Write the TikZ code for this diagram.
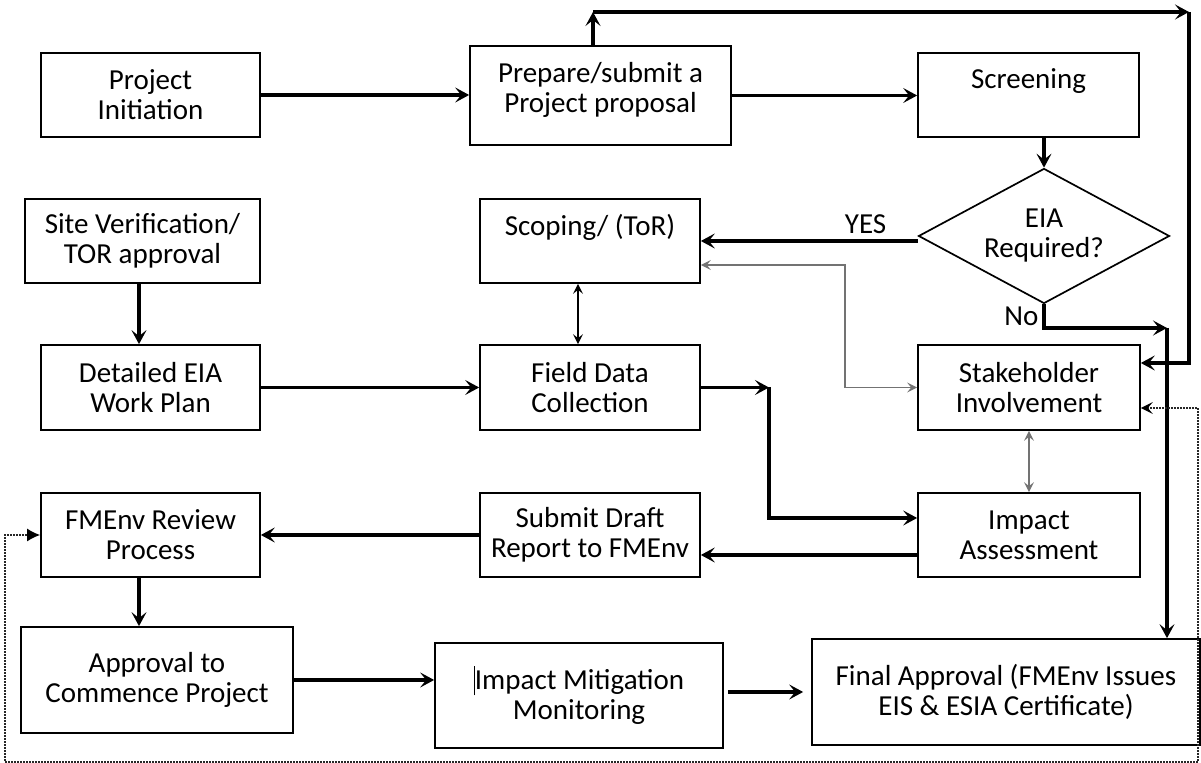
\documentclass[tikz,border=0pt]{standalone}
\usepackage{fontspec}
\setmainfont{Carlito}
\usetikzlibrary{arrows.meta, shapes.geometric}

\begin{document}
\begin{tikzpicture}[x=0.5pt, y=-0.5pt,
  font=\fontsize{14.5}{15}\selectfont,
  box/.style 2 args={draw, line width=0.85pt, align=center, inner sep=0pt,
    minimum width=#1*0.5pt, minimum height=#2*0.5pt},
  dia/.style={draw, diamond, line width=0.85pt, align=center, inner sep=0pt,
    aspect=1.86, minimum width=125.5pt, minimum height=67.5pt},
  arr/.style={line width=1.6pt, -{Stealth[length=7pt,width=7.5pt,inset=3pt]}},
  tarr/.style={line width=0.65pt, {Stealth[length=5pt,width=5pt,inset=2pt]}-{Stealth[length=5pt,width=5pt,inset=2pt]}},
  garr/.style={tarr, draw=black!55},
  dotarr/.style={line width=0.75pt, draw=black!85, dash pattern=on 0.75pt off 0.75pt,
    {Stealth[length=6pt,width=6pt,inset=2.5pt,black]}-{Latex[length=6.5pt,width=6.5pt,black]}}
]
\useasboundingbox (0,0) rectangle (1201,763);

%boxes
\node[box={219}{84}] (init) at (150.5,95) {Project\\Initiation};
\node[box={261}{99}, text depth=8.5pt] (prep) at (600.5,95.5) {Prepare/submit a\\Project proposal};
\node[box={221}{84}, text depth=16pt] (screen) at (1028.5,95) {Screening};
\node[dia] (eia) at (1044,236) {EIA\\Required?};
\node[box={235}{84}] (site) at (142.5,241) {Site Verification/\\TOR approval};
\node[box={220}{84}, text depth=16.5pt] (scope) at (590,241) {Scoping/ (ToR)};
\node[box={219}{85}] (plan) at (150.5,387.5) {Detailed EIA\\Work Plan};
\node[box={220}{85}] (field) at (590,387.5) {Field Data\\Collection};
\node[box={222}{85}] (stake) at (1029,387.5) {Stakeholder\\Involvement};
\node[box={219}{84}] (review) at (150.5,535) {FMEnv Review\\Process};
\node[box={220}{84}] (draft) at (590,535) {Submit Draft\\Report to FMEnv};
\node[box={222}{84}] (impact) at (1029,535) {Impact\\Assessment};
\node[box={272}{106}] (commence) at (157,680) {Approval to\\Commence Project};
\node[box={288}{105}] (mitig) at (579,695.5) {\rule[-0.2em]{0.5pt}{1em}Impact Mitigation\\Monitoring};
\node[box={388}{106}] (final) at (1006,692) {Final Approval (FMEnv Issues\\EIS \& ESIA Certificate)};

%corners
\coordinate (tl) at (593,12);
\coordinate (tr) at (1189,12);
\coordinate (nk) at (1167,328);
\coordinate (fk) at (769,387.5);
\coordinate (gk) at (845,387.5);

%main flow
\draw[arr] (init.east) -- (init.east -| prep.west);
\draw[arr] (prep.east) -- (prep.east -| screen.west);
\draw[arr] (prep.north -| tl) -- (tl);
\draw[arr] (tl) -- (tr);
\draw[arr] (tr) |- ([yshift=12.25pt]stake.east);
\draw[arr] (eia.north |- screen.south) -- (eia.north);
\draw[arr] (eia.west |- scope.east) -- (scope.east) node[pos=0.24, above, inner sep=3pt] {YES};
\draw[garr] ([yshift=-12pt]scope.east) -| (gk) -- (stake.west);
\draw[tarr] ([xshift=-6pt]scope.south) -- ([xshift=-6pt]field.north);
\draw[arr] ([xshift=-5.75pt]plan.north |- site.south) -- ([xshift=-5.75pt]plan.north);
\draw[arr] (plan.east) -- (field.west);
\draw[arr] (field.east) -- (fk);
\draw[arr] (fk) |- ([yshift=8.5pt]impact.west);
\draw[garr] (stake.south) -- (impact.north);
\draw[arr] ([yshift=-10pt]impact.west) -- ([yshift=-10pt]impact.west -| draft.east);
\draw[arr] (draft.west) -- (review.east);
\draw[arr] ([xshift=-5.75pt]review.south) -- ([xshift=-5.75pt]review.south |- commence.north);
\draw[arr] (commence.east) -- (commence.east -| mitig.west);
\draw[arr, shorten <=2pt, shorten >=4pt] (final.west -| mitig.east) -- (final.west);
%no branch
\draw[arr] (eia.south) |- (nk) node[pos=0.25, left, inner sep=2pt] {No};
\draw[arr] (nk) -- (nk |- final.north);
%feedback loop
\draw[dotarr] ([yshift=-10.25pt]stake.east) -| (1198,762) -| (5,535) -- (review.west);
\end{tikzpicture}
\end{document}
